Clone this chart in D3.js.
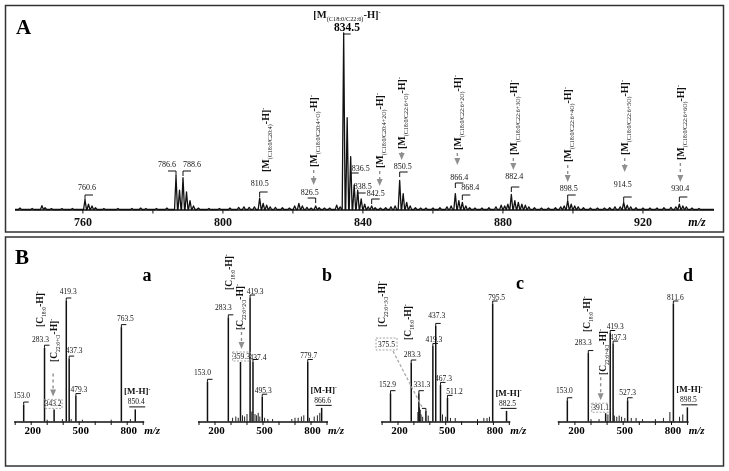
<!DOCTYPE html>
<html><head><meta charset="utf-8">
<script src="https://cdn.jsdelivr.net/npm/d3@7"></script>
<style>body{margin:0;background:#fff}svg{display:block;will-change:transform}text{font-family:"Liberation Serif","Times New Roman",serif}</style>
</head><body>
<svg id="c" width="729" height="471"></svg>
<script>
// ---------------- DATA ----------------
// Panel A: full-scan spectrum, [m/z, relative intensity %]
const spectrumA = [[742.0,0.8],[745.5,0.6],[748.3,2.2],[749.2,1],[751,0.5],[754,0.5],[757,0.6],[760.6,5.5],[761.6,3],[762.6,2],[763.6,1],
[766,0.5],[770,0.6],[774,0.6],[776.5,0.8],[778,0.6],[781,0.6],[784,0.8],[786.6,19],[787.6,11],[788.6,18],[789.6,10],[790.6,5],[791.6,2],
[793,0.8],[796,0.6],[799,0.6],[802,0.8],[804.5,1.2],[806,1.5],[807.5,1.2],[809,1.5],[810.5,6.5],[811.5,3.5],[812.5,2.5],[813.5,1.5],
[815,1.2],[817,1],[819,0.8],[820.5,2],[821.7,3.5],[822.7,2],[824,1.2],[825.2,0.8],[826.5,2],[827.5,1],[829,0.8],[830.5,0.8],[832.5,2.5],
[833.5,1.5],[834.5,100],[835.5,52],[836.5,30],[837.5,14],[838.5,11],[839.5,6],[840.5,3],[841.5,1.5],[842.5,2],[843.5,1],[845,0.8],
[846.5,1],[848,1.5],[849.2,2],[850.5,16.5],[851.5,9],[852.5,4],[853.5,2],[855,1],[856.5,0.8],[858,0.8],[860,0.8],[862,1],[864,1.5],
[865.2,2],[866.4,9],[867.4,5],[868.4,4],[869.4,2],[870.5,1],[872,0.8],[874,0.8],[876,1],[878,1.5],[879.5,2.5],[880.5,2],[881.4,3],
[882.4,8.5],[883.4,5],[884.4,4],[885.4,3],[886.4,2.5],[887.4,1.5],[889,1],[891,0.8],[893,0.8],[895,1],[896.5,1.5],[897.5,2],[898.5,5],
[899.5,3],[900.5,2],[901.5,1.5],[903,1],[905,0.8],[907,0.8],[909,0.8],[910.5,1],[912,1.5],[913.5,1.5],[914.5,4],[915.5,2.5],[916.5,1.5],
[918,1],[920,0.8],[922,0.8],[924,0.8],[926,1],[928,1.2],[929.4,1.5],[930.4,3],[931.4,2],[932.4,1.5],[934,0.8],[936,0.6]];
const ticksA = [760, 800, 840, 880, 920];
const minorTicksA = [760, 780, 800, 820, 840, 860, 880, 900, 920];

// Panel B: MS/MS spectra (stick), [m/z, relative intensity %]
const peaksBa = [[153.0,14],[283.3,61],[343.2,10],[419.3,100],[437.3,52],[479.3,21],[763.5,78],[850.4,10]];
const noiseBa = [[300,1.5],[395,2],[450,2],[520,1.5],[700,1.5],[820,2]];
const peaksBb = [[153.0,32],[283.3,84],[359.3,48],[419.3,100],[437.4,48],[495.3,20],[779.7,48],[866.6,11]];
const noiseBb = [[310,3],[330,4],[345,3],[372,5],[385,4],[400,6],[430,8],[450,6],[460,5],[470,7],[480,4],[510,3],[530,2],[560,2],[680,2],[700,3],[720,3],[740,4],[755,5],[790,3],[820,4],[840,5],[855,7]];
const peaksBc = [[152.9,24],[283.3,50],[331.3,24],[375.5,9],[419.3,64],[437.3,81],[467.3,31],[511.2,20],[795.5,100],[882.5,9]];
const noiseBc = [[325,8],[335,12],[340,10],[345,6],[355,4],[390,5],[480,6],[500,4],[530,3],[560,3],[700,2],[740,3],[760,3],[775,4]];
const peaksBd = [[153.0,18],[283.3,58],[391.1,7],[419.3,75],[437.3,66],[527.3,18],[811.6,100],[898.5,12]];
const noiseBd = [[300,2],[350,2],[405,6],[445,5],[460,4],[475,5],[490,4],[510,3],[550,3],[580,3],[620,2],[700,2],[750,3],[790,8],[850,4],[870,6]];
const ticksB = [200, 500, 800];
const minorTicksB = [100, 200, 300, 400, 500, 600, 700, 800, 900];

// ---------------- DRAW ----------------
const svg = d3.select("#c");
const gray = "#8f8f8f";

// frames
svg.append("rect").attr("x",5.5).attr("y",5.5).attr("width",718).attr("height",226.5)
  .attr("fill","none").attr("stroke","#333").attr("stroke-width",1.5);
svg.append("rect").attr("x",5.5).attr("y",237).attr("width",718).attr("height",229)
  .attr("fill","none").attr("stroke","#333").attr("stroke-width",1.5);

// rich text: parts [text, kind] kind n|sub|sup
function rich(sel, parts, fs, anchor) {
  const t = sel.append("text").attr("font-weight","bold").attr("font-size",fs).attr("fill","#111");
  if (anchor) t.attr("text-anchor", anchor);
  let shift = 0;
  parts.forEach(([s,k]) => {
    const target = k === "sub" ? fs*0.32 : k === "sup" ? -fs*0.42 : 0;
    const ts = t.append("tspan").text(s).attr("dy", target - shift);
    if (k !== "n") ts.attr("font-size", fs*0.6);
    if (k === "sub") ts.attr("font-weight","normal");
    shift = target;
  });
  return t;
}
const mParts = sub => [["[M","n"],["("+sub+")","sub"],["-H]","n"],["-","sup"]];
const cParts = sub => [["[C","n"],[sub,"sub"],["-H]","n"],["-","sup"]];

function rotLabel(cx, bottom, parts, fs) {
  const g = svg.append("g").attr("transform",`translate(${cx + fs*0.36},${bottom}) rotate(-90)`);
  rich(g, parts, fs);
}
function arrow(x, y1, y2) {
  svg.append("line").attr("x1",x).attr("x2",x).attr("y1",y1).attr("y2",y2-6)
    .attr("stroke",gray).attr("stroke-width",1.4).attr("stroke-dasharray","3,3");
  svg.append("path").attr("d",`M${x-3},${y2-7}L${x+3},${y2-7}L${x},${y2}Z`).attr("fill",gray);
}
function smallText(x, y, s, fs) {
  return svg.append("text").attr("x",x).attr("y",y).attr("text-anchor","middle")
    .attr("font-size",fs||8).attr("fill","#111").text(s);
}
function bracket(x, y, dir, len, drop) {
  svg.append("path").attr("d",`M${x+dir*len},${y}H${x}V${y+drop}`)
    .attr("fill","none").attr("stroke","#111").attr("stroke-width",1);
}

// ---- Panel A ----
const xA = d3.scaleLinear().domain([740.6, 940.3]).range([15, 714]);
const yA = d3.scaleLinear().domain([0, 100]).range([209.5, 33]);
const profile = [[740.6,0]];
spectrumA.forEach(([m,v]) => { profile.push([m-0.42,0],[m,v],[m+0.42,0]); });
profile.push([940.3,0]);
svg.append("path").attr("d", d3.line().x(d=>xA(d[0])).y(d=>yA(d[1]))(profile))
  .attr("fill","none").attr("stroke","#111").attr("stroke-width",1.3).attr("stroke-linejoin","round");
// axis
svg.append("line").attr("x1",xA(740.6)).attr("x2",xA(940.3)).attr("y1",210).attr("y2",210)
  .attr("stroke","#111").attr("stroke-width",1.6);
minorTicksA.forEach(t => svg.append("line").attr("x1",xA(t)).attr("x2",xA(t)).attr("y1",210).attr("y2",213.5)
  .attr("stroke","#111").attr("stroke-width",1));
ticksA.forEach(t => svg.append("text").attr("x",xA(t)).attr("y",225.5).attr("text-anchor","middle")
  .attr("font-size",12).attr("font-weight","bold").attr("fill","#111").text(t));
svg.append("text").attr("x",697).attr("y",225.5).attr("text-anchor","middle").attr("font-size",12)
  .attr("font-weight","bold").attr("font-style","italic").text("m/z");
svg.append("text").attr("x",16).attr("y",34).attr("font-size",21).attr("font-weight","bold").text("A");

// top label for base peak
rich(svg.append("g").attr("transform","translate(347,18)"), mParts("C18:0/C22:6"), 10.5, "middle");
svg.append("text").attr("x",347).attr("y",31).attr("text-anchor","middle").attr("font-size",11.5)
  .attr("font-weight","bold").text("834.5");
bracket(xA(834.5), 34, 1, 7, 0);

// numeric labels: [mz, text, dx, textCenterY, bracketY, dir]
const numLabelsA = [
 [760.6,"760.6",2,187,195,1],[786.6,"786.6",-9,164,171,-1],[788.6,"788.6",9,164,171,1],
 [810.5,"810.5",0,183,192,1],[826.5,"826.5",-6,192,198,-1],[836.5,"836.5",10,168,173,1],
 [838.5,"838.5",5,186,193,1],[842.5,"842.5",4,193,199,1],[850.5,"850.5",3,166,172,1],
 [866.4,"866.4",4,177,183,1],[868.4,"868.4",8,187,195,1],[882.4,"882.4",3,176,187,1],
 [898.5,"898.5",1,188,195,1],[914.5,"914.5",-1,184,197,1],[930.4,"930.4",1,188,197,1]];
numLabelsA.forEach(([m,s,dx,ty,by,dir]) => {
  smallText(xA(m)+dx, ty+3, s, 8);
  bracket(xA(m), by, dir, 8, 5);
});
// rotated labels: [mz, dx, bottomY, sub, arrowTipY]
const rotLabelsA = [
 [810.5,6,172,"C18:0/C20:4",null],[826.5,-2,167,"C18:0/C20:4+O",185],[842.5,8,168,"C18:0/C20:4+2O",186],
 [850.5,2,149,"C18:0/C22:6+O",160],[866.4,2,150,"C18:0/C22:6+2O",165],[882.4,2,155,"C18:0/C22:6+3O",170],
 [898.5,0,162,"C18:0/C22:6+4O",182],[914.5,1,155,"C18:0/C22:6+5O",172],[930.4,1,160,"C18:0/C22:6+6O",182]];
rotLabelsA.forEach(([m,dx,b,sub,tip]) => {
  const cx = xA(m)+dx;
  rotLabel(cx, b, mParts(sub), 10);
  if (tip) arrow(cx, b+3, tip);
});

// ---- Panel B ----
svg.append("text").attr("x",15).attr("y",264).attr("font-size",21).attr("font-weight","bold").text("B");
const base = 421.5;
const panels = [
 {name:"a", ny:281, peaks:peaksBa, noise:noiseBa, x200:31.2, slope:0.16, h:121, nameX:147,
  labels:[[153.0,"153.0",-2,10],[283.3,"283.3",-4,9],[419.3,"419.3",2,10],[437.3,"437.3",5,9],[479.3,"479.3",3,7],[763.5,"763.5",4,9]],
  box:[343.2,"343.2",-1], mh:850.4, rot:[[283.3,-4.5,327,"18:0"],[343.2,-1,362,"22:6+O"]]},
 {name:"b", ny:281, peaks:peaksBb, noise:noiseBb, x200:215, slope:0.16, h:124, nameX:327,
  labels:[[153.0,"153.0",-5,10],[283.3,"283.3",-5,10],[419.3,"419.3",5,7],[437.4,"437.4",5,5],[495.3,"495.3",1,7],[779.7,"779.7",1,7]],
  box:[359.3,"359.3",1], mh:866.6, rot:[[283.3,0.5,290,"18:0"],[359.3,-0.5,330,"22:6+2O"]]},
 {name:"c", ny:289, peaks:peaksBc, noise:noiseBc, x200:398, slope:0.159, h:118, nameX:520,
  labels:[[152.9,"152.9",-3,9],[283.3,"283.3",1,9],[331.3,"331.3",3,9],[419.3,"419.3",1,7],[437.3,"437.3",1,11],[467.3,"467.3",3,7],[511.2,"511.2",7,7],[795.5,"795.5",4,7]],
  box:null, mh:882.5, rot:[[152.9,-8.5,327,"22:6+3O"],[283.3,-4,340,"18:0"]]},
 {name:"d", ny:281, peaks:peaksBd, noise:noiseBd, x200:574.9, slope:0.161, h:118, nameX:688,
  labels:[[153.0,"153.0",-3,10],[283.3,"283.3",-5,11],[419.3,"419.3",5,7],[437.3,"437.3",5,7],[527.3,"527.3",0,8],[811.6,"811.6",2,7]],
  box:[391.1,"391.1",-5], mh:898.5, rot:[[283.3,-1.5,332,"18:0"],[391.1,-3.5,375,"22:6+4O"]]}
];
panels.forEach(p => {
  const x = d3.scaleLinear().domain([200,800]).range([p.x200, p.x200 + 600*p.slope]);
  const y = d3.scaleLinear().domain([0,100]).range([base, base - p.h]);
  const g = svg.append("g");
  g.selectAll("line.n").data(p.noise).enter().append("line")
    .attr("x1",d=>x(d[0])).attr("x2",d=>x(d[0])).attr("y1",base).attr("y2",d=>y(d[1]))
    .attr("stroke","#222").attr("stroke-width",1);
  g.selectAll("line.p").data(p.peaks).enter().append("line")
    .attr("x1",d=>x(d[0])).attr("x2",d=>x(d[0])).attr("y1",base).attr("y2",d=>y(d[1]))
    .attr("stroke","#111").attr("stroke-width",1.5);
  // axis
  g.append("line").attr("x1",x(100)-1).attr("x2",x(900)+1).attr("y1",base+0.5).attr("y2",base+0.5)
    .attr("stroke","#111").attr("stroke-width",1.6);
  minorTicksB.forEach(t => g.append("line").attr("x1",x(t)).attr("x2",x(t)).attr("y1",base).attr("y2",base+3.5)
    .attr("stroke","#111").attr("stroke-width",1));
  ticksB.forEach(t => g.append("text").attr("x",x(t)+1.5).attr("y",433.5).attr("text-anchor","middle")
    .attr("font-size",11).attr("font-weight","bold").text(t));
  g.append("text").attr("x",x(900)+9).attr("y",433.5).attr("text-anchor","middle").attr("font-size",11)
    .attr("font-weight","bold").attr("font-style","italic").text("m/z");
  g.append("text").attr("x",p.nameX).attr("y",p.ny).attr("text-anchor","middle").attr("font-size",18)
    .attr("font-weight","bold").text(p.name);
  const top = m => y(p.peaks.find(d => d[0] === m)[1]);
  p.labels.forEach(([m,s,dx,dy]) => {
    smallText(x(m)+dx, top(m)-dy+3, s, 7.5);
    bracket(x(m), top(m)-2.5, 1, 5, 2.5);
  });
  // [M-H]- with underlined precursor
  const mx = x(p.mh), mt = top(p.mh);
  smallText(mx+1, mt-5, String(p.mh.toFixed(1)), 7.5);
  svg.append("line").attr("x1",mx-6).attr("x2",mx+10).attr("y1",mt-2.5).attr("y2",mt-2.5).attr("stroke","#111").attr("stroke-width",1);
  rich(svg.append("g").attr("transform",`translate(${mx+2},${mt-15})`), [["[M-H]","n"],["-","sup"]], 9, "middle");
  // rotated fragment labels
  p.rot.forEach(([m,dx,b,sub]) => rotLabel(x(m)+dx, b, cParts(sub), 9.5));
  // dashed box with arrow
  if (p.box) {
    const [m,s,dx] = p.box;
    const bx = x(m)+dx, bt = top(m);
    svg.append("rect").attr("x",bx-9).attr("y",bt-10).attr("width",18).attr("height",9)
      .attr("fill","none").attr("stroke",gray).attr("stroke-width",0.8).attr("stroke-dasharray","2,1.5");
    smallText(bx, bt-3, s, 7.5);
    arrow(bx, bt-36, bt-13);
  }
});
// panel c: detached dashed box for 375.5
{
  const p = panels[2];
  const x = d3.scaleLinear().domain([200,800]).range([p.x200, p.x200 + 600*p.slope]);
  const yv = base - p.h * 9/100;
  svg.append("rect").attr("x",376).attr("y",338).attr("width",21).attr("height",12)
    .attr("fill","none").attr("stroke",gray).attr("stroke-width",0.8).attr("stroke-dasharray","2,1.5");
  smallText(386.5, 347, "375.5", 7.5);
  svg.append("line").attr("x1",393).attr("y1",351).attr("x2",x(375.5)-4).attr("y2",yv-4)
    .attr("stroke","#aaa").attr("stroke-width",1.3).attr("stroke-dasharray","3,2");
  bracket(x(375.5), yv-2.5, -1, 4, 2.5);
}
</script>
</body></html>
